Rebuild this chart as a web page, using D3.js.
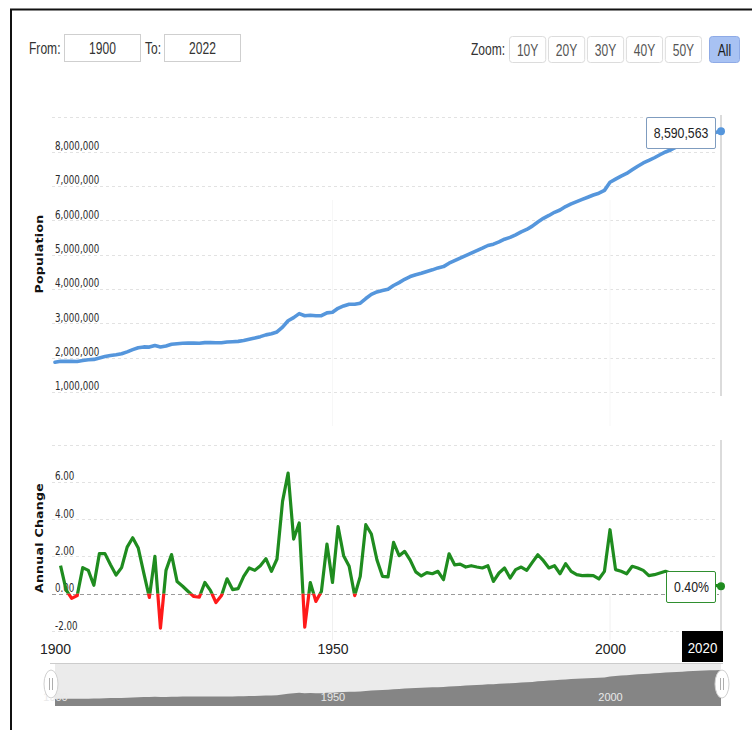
<!DOCTYPE html>
<html>
<head>
<meta charset="utf-8">
<script src="https://cdn.jsdelivr.net/npm/d3@7"></script>
<style>
  html, body { margin: 0; padding: 0; background: #fff; overflow: hidden; }
  svg { display: block; }
</style>
</head>
<body>
<svg id="chart" width="752" height="730"></svg>
<script>
// ---- data -------------------------------------------------------------
const popYears = d3.range(1900, 2021);
const population = [
  1864000, 1892000, 1896000, 1891000, 1889000, 1915000, 1939000, 1948000, 1990000, 2033000,
  2064000, 2085000, 2114000, 2167000, 2232000, 2287000, 2312000, 2307000, 2353000, 2310000,
  2339000, 2388000, 2406000, 2418000, 2423000, 2422000, 2420000, 2437000, 2443000, 2434000,
  2435000, 2456000, 2464000, 2473000, 2499000, 2536000, 2570000, 2611000, 2663000, 2697000,
  2749000, 2888000, 3075000, 3165000, 3282000, 3220000, 3236000, 3220000, 3221000, 3303000,
  3320000, 3436000, 3506000, 3557000, 3553000, 3587000, 3721000, 3842000, 3914000, 3952000,
  3990000, 4101000, 4185000, 4282000, 4361000, 4413000, 4456000, 4509000, 4557000, 4614000,
  4651000, 4751000, 4824000, 4901000, 4971000, 5045000, 5117000, 5188000, 5266000, 5305000,
  5370000, 5450000, 5502000, 5578000, 5663000, 5733000, 5830000, 5952000, 6057000, 6141000,
  6233000, 6300000, 6401000, 6478000, 6544000, 6608000, 6672000, 6737000, 6790000, 6872000,
  7108000, 7199000, 7286000, 7364000, 7472000, 7575000, 7670000, 7743000, 7822000, 7909000,
  7990000, 8055000, 8136000, 8213000, 8287000, 8353000, 8416000, 8471000, 8518000, 8556000,
  8590563
];

const changeYears = d3.range(1901, 2021);
const annualChange = [
  1.50, 0.20, -0.25, -0.10, 1.40, 1.25, 0.45, 2.15, 2.15, 1.55,
  1.00, 1.40, 2.50, 3.00, 2.45, 1.10, -0.20, 2.00, -1.85, 1.25,
  2.10, 0.65, 0.40, 0.12, -0.15, -0.18, 0.60, 0.18, -0.47, -0.10,
  0.80, 0.22, 0.27, 0.93, 1.38, 1.25, 1.50, 1.88, 1.20, 1.86,
  4.95, 6.47, 2.93, 3.79, -1.79, 0.60, -0.41, 0.12, 2.66, 0.60,
  3.60, 2.04, 1.47, -0.10, 0.93, 3.70, 3.20, 1.82, 0.93, 0.90,
  2.75, 2.04, 2.27, 1.80, 1.17, 0.95, 1.13, 1.07, 1.20, 0.75,
  2.14, 1.55, 1.59, 1.43, 1.50, 1.43, 1.38, 1.50, 0.66, 1.11,
  1.38, 0.84, 1.29, 1.43, 1.25, 1.68, 2.09, 1.77, 1.38, 1.50,
  1.07, 1.61, 1.20, 1.02, 0.97, 0.98, 0.97, 0.79, 1.20, 3.43,
  1.29, 1.20, 1.07, 1.47, 1.38, 1.25, 0.97, 1.02, 1.11, 1.20,
  1.10, 1.00, 0.95, 0.90, 0.80, 0.75, 0.65, 0.55, 0.45, 0.40
];

const popTickValues = [1000000, 2000000, 3000000, 4000000, 5000000, 6000000, 7000000, 8000000];
const popGridValues = [1000000, 2000000, 3000000, 4000000, 5000000, 6000000, 7000000, 8000000, 9000000];
const changeTickValues = [-2, 0, 2, 4, 6];
const changeGridValues = [-2, 2, 4, 6, 8];
const xTickValues = [1900, 1950, 2000];
const navTickValues = [1900, 1950, 2000];
const zoomButtons = ["10Y", "20Y", "30Y", "40Y", "50Y", "All"];
const rangeFrom = "1900";
const rangeTo = "2022";

// ---- helpers ----------------------------------------------------------
const svg = d3.select("#chart");
const SANS = "'Liberation Sans', Arial, sans-serif";
const VERD = "'DejaVu Sans', Verdana, sans-serif";

function label(g, x, y, s, o) {
  o = o || {};
  let tr = `translate(${x},${y}) scale(${o.sx || 1},1)`;
  if (o.rotate) tr += ` rotate(${o.rotate})`;
  const t = g.append("text")
    .attr("transform", tr)
    .attr("text-anchor", o.anchor || "start")
    .attr("fill", o.fill || "#333")
    .style("font-family", o.family || SANS)
    .style("font-size", (o.size || 12) + "px")
    .text(s);
  if (o.weight) t.style("font-weight", o.weight);
  if (o.ls) t.style("letter-spacing", o.ls + "px");
  return t;
}

function styleTicks(g) {
  g.select(".domain").remove();
  g.selectAll("text")
    .attr("x", 0).attr("dy", null).attr("y", -2)
    .attr("transform", "scale(0.67,1)")
    .attr("fill", "#2a2a2a")
    .style("font-family", VERD).style("font-size", "13px");
}

// ---- frame ------------------------------------------------------------
svg.append("line").attr("x1", 10).attr("x2", 752).attr("y1", 9.5).attr("y2", 9.5)
  .attr("stroke", "#111").attr("stroke-width", 2);
svg.append("line").attr("x1", 11).attr("x2", 11).attr("y1", 9).attr("y2", 730)
  .attr("stroke", "#111").attr("stroke-width", 2);

// ---- range selector ---------------------------------------------------
const ctl = svg.append("g");
label(ctl, 29, 54, "From:", { size: 17, sx: 0.71 });
ctl.append("rect").attr("x", 64.5).attr("y", 34.5).attr("width", 76).attr("height", 27)
  .attr("fill", "#fff").attr("stroke", "#cfcfcf");
label(ctl, 102.5, 54, rangeFrom, { size: 17, sx: 0.71, anchor: "middle" });
label(ctl, 145, 54, "To:", { size: 17, sx: 0.71 });
ctl.append("rect").attr("x", 164.5).attr("y", 34.5).attr("width", 76).attr("height", 27)
  .attr("fill", "#fff").attr("stroke", "#cfcfcf");
label(ctl, 202.5, 54, rangeTo, { size: 17, sx: 0.71, anchor: "middle" });

label(ctl, 471, 55, "Zoom:", { size: 17, sx: 0.71 });
const btnX = d3.scaleBand().domain(zoomButtons).range([509, 740]).paddingInner(0.07);
zoomButtons.forEach((b) => {
  const w = b === "All" ? 30 : btnX.bandwidth();
  const x0 = b === "All" ? 709 : btnX(b);
  const sel = b === "All";
  ctl.append("rect").attr("x", x0 + 0.5).attr("y", 36.5).attr("width", w).attr("height", 26)
    .attr("rx", 3).attr("fill", sel ? "#a8c2f3" : "#fff").attr("stroke", sel ? "#8eaae6" : "#dcdcdc");
  label(ctl, x0 + w / 2 + 0.5, 55.5, b, { size: 17, sx: 0.71, anchor: "middle", fill: sel ? "#1a1a1a" : "#555" });
});

// ---- scales -----------------------------------------------------------
const x = d3.scaleLinear().domain([1900, 2020]).range([55, 721]);
const yPop = d3.scaleLinear().domain([0, 9000000]).range([426.3, 117.3]);
const yChg = d3.scaleLinear().domain([-2, 8]).range([631, 444.5]);

// ---- population pane --------------------------------------------------
const popPane = svg.append("g");
popPane.selectAll("line.grid").data(popGridValues).join("line")
  .attr("class", "grid")
  .attr("x1", 52).attr("x2", 716)
  .attr("y1", d => Math.round(yPop(d)) + 0.5).attr("y2", d => Math.round(yPop(d)) + 0.5)
  .attr("stroke", "#e2e2e2").attr("stroke-dasharray", "3,3");
popPane.selectAll("line.vgrid").data([1950, 2000]).join("line")
  .attr("class", "vgrid")
  .attr("x1", d => x(d)).attr("x2", d => x(d)).attr("y1", 200).attr("y2", 426)
  .attr("stroke", "#f7f7f7");

const popAxis = d3.axisRight(yPop).tickValues(popTickValues).tickFormat(d3.format(","))
  .tickSize(0).tickPadding(0);
popPane.append("g").attr("transform", "translate(55,0)").call(popAxis).call(styleTicks);

label(popPane, 43, 254, "Population", { size: 12.5, weight: "bold", family: VERD, rotate: -90, anchor: "middle", ls: 0.3, fill: "#111", sx: 0.85 });

const popLine = d3.line().x((d, i) => x(popYears[i])).y(d => yPop(d));
popPane.append("path").datum(population).attr("d", popLine)
  .attr("fill", "none").attr("stroke", "#5596dc").attr("stroke-width", 3.6)
  .attr("stroke-linejoin", "round").attr("stroke-linecap", "round");

// crosshair
popPane.append("line").attr("x1", 721).attr("x2", 721).attr("y1", 115).attr("y2", 396)
  .attr("stroke", "#cfcfcf").attr("stroke-width", 1.5);

// last value flag
const lastPop = population[population.length - 1];
popPane.append("rect").attr("x", 646.5).attr("y", 117.5).attr("width", 69).attr("height", 31)
  .attr("rx", 1.5).attr("fill", "#fff").attr("stroke", "#7f9cbf");
label(popPane, 681, 138, d3.format(",")(lastPop), { size: 14, sx: 0.88, anchor: "middle", fill: "#222" });
popPane.append("circle").attr("cx", x(2020)).attr("cy", yPop(lastPop)).attr("r", 4)
  .attr("fill", "#5596dc");

// ---- annual change pane -----------------------------------------------
const chgPane = svg.append("g");
chgPane.selectAll("line.grid").data(changeGridValues).join("line")
  .attr("class", "grid")
  .attr("x1", 52).attr("x2", 716)
  .attr("y1", d => Math.round(yChg(d)) + 0.5).attr("y2", d => Math.round(yChg(d)) + 0.5)
  .attr("stroke", "#e2e2e2").attr("stroke-dasharray", "3,3");
chgPane.append("line")
  .attr("x1", 52).attr("x2", 719)
  .attr("y1", Math.round(yChg(0)) + 0.5).attr("y2", Math.round(yChg(0)) + 0.5)
  .attr("stroke", "#9a9a9a").attr("stroke-dasharray", "4,3");
chgPane.selectAll("line.vgrid").data([1950, 2000]).join("line")
  .attr("class", "vgrid")
  .attr("x1", d => x(d)).attr("x2", d => x(d)).attr("y1", 596).attr("y2", 640)
  .attr("stroke", "#f0f0f0");

const chgAxis = d3.axisRight(yChg).tickValues(changeTickValues).tickFormat(d => d.toFixed(2))
  .tickSize(0).tickPadding(0);
chgPane.append("g").attr("transform", "translate(55,0)").call(chgAxis).call(styleTicks);

label(chgPane, 43, 538, "Annual Change", { size: 12.5, weight: "bold", family: VERD, rotate: -90, anchor: "middle", ls: 0.3, fill: "#111", sx: 0.85 });

const defs = svg.append("defs");
defs.append("clipPath").attr("id", "above").append("rect")
  .attr("x", 0).attr("y", 0).attr("width", 752).attr("height", yChg(0));
defs.append("clipPath").attr("id", "below").append("rect")
  .attr("x", 0).attr("y", yChg(0)).attr("width", 752).attr("height", 730 - yChg(0));

const chgLine = d3.line().x((d, i) => x(changeYears[i])).y(d => yChg(d));
[["above", "#1f8c1f"], ["below", "#ff1a1a"]].forEach(([clip, col]) => {
  chgPane.append("path").datum(annualChange).attr("d", chgLine)
    .attr("clip-path", `url(#${clip})`)
    .attr("fill", "none").attr("stroke", col).attr("stroke-width", 3.2)
    .attr("stroke-linejoin", "round");
});

chgPane.append("line").attr("x1", 721).attr("x2", 721).attr("y1", 440).attr("y2", 631)
  .attr("stroke", "#cfcfcf").attr("stroke-width", 1.5);

const lastChg = annualChange[annualChange.length - 1];
chgPane.append("rect").attr("x", 666.5).attr("y", 571.5).attr("width", 49).attr("height", 31)
  .attr("rx", 1.5).attr("fill", "#fff").attr("stroke", "#2f8f2f");
label(chgPane, 691.5, 592, lastChg.toFixed(2) + "%", { size: 14, sx: 0.88, anchor: "middle", fill: "#222" });
chgPane.append("circle").attr("cx", x(2020)).attr("cy", yChg(lastChg)).attr("r", 4)
  .attr("fill", "#1f8c1f");

// ---- x axis -----------------------------------------------------------
const xAxis = d3.axisBottom(x).tickValues(xTickValues).tickFormat(d3.format("d"))
  .tickSize(0).tickPadding(0);
const xAxisG = svg.append("g").call(xAxis);
xAxisG.select(".domain").remove();
xAxisG.selectAll("text")
  .attr("y", 654).attr("dy", null)
  .attr("fill", "#222")
  .style("font-family", SANS).style("font-size", "14px");

// current-year flag on the axis
svg.append("rect").attr("x", 682).attr("y", 631).attr("width", 41).attr("height", 31).attr("fill", "#000");
label(svg, 702.5, 653, "2020", { size: 14, sx: 0.95, anchor: "middle", fill: "#fff" });

// ---- navigator --------------------------------------------------------
const nav = svg.append("g");
const yNav = d3.scaleLinear().domain([0, d3.max(population)]).range([707, 670]);
nav.append("rect").attr("x", 55).attr("y", 663.5).attr("width", 666).attr("height", 42.5)
  .attr("fill", "#ebebeb").attr("stroke", "none");
nav.append("line").attr("x1", 50).attr("x2", 723).attr("y1", 663.5).attr("y2", 663.5)
  .attr("stroke", "#cccccc");
const navArea = d3.area().x((d, i) => x(popYears[i])).y0(706).y1(d => yNav(d));
nav.append("path").datum(population).attr("d", navArea).attr("fill", "#858585");
const navAxis = d3.axisBottom(x).tickValues(navTickValues).tickFormat(d3.format("d"))
  .tickSize(0).tickPadding(0);
const navAxisG = nav.append("g").call(navAxis);
navAxisG.select(".domain").remove();
navAxisG.selectAll("text")
  .attr("y", 701).attr("dy", null)
  .attr("fill", "#e9e9e9")
  .style("font-family", SANS).style("font-size", "11px");

[51, 722].forEach(cx => {
  nav.append("ellipse").attr("cx", cx).attr("cy", 684).attr("rx", 7).attr("ry", 14)
    .attr("fill", "#fff").attr("stroke", "#d0d0d0");
  [-1.5, 1.5].forEach(dx => nav.append("line")
    .attr("x1", cx + dx).attr("x2", cx + dx).attr("y1", 678).attr("y2", 690)
    .attr("stroke", "#999").attr("stroke-width", 0.8));
});
</script>
</body>
</html>
